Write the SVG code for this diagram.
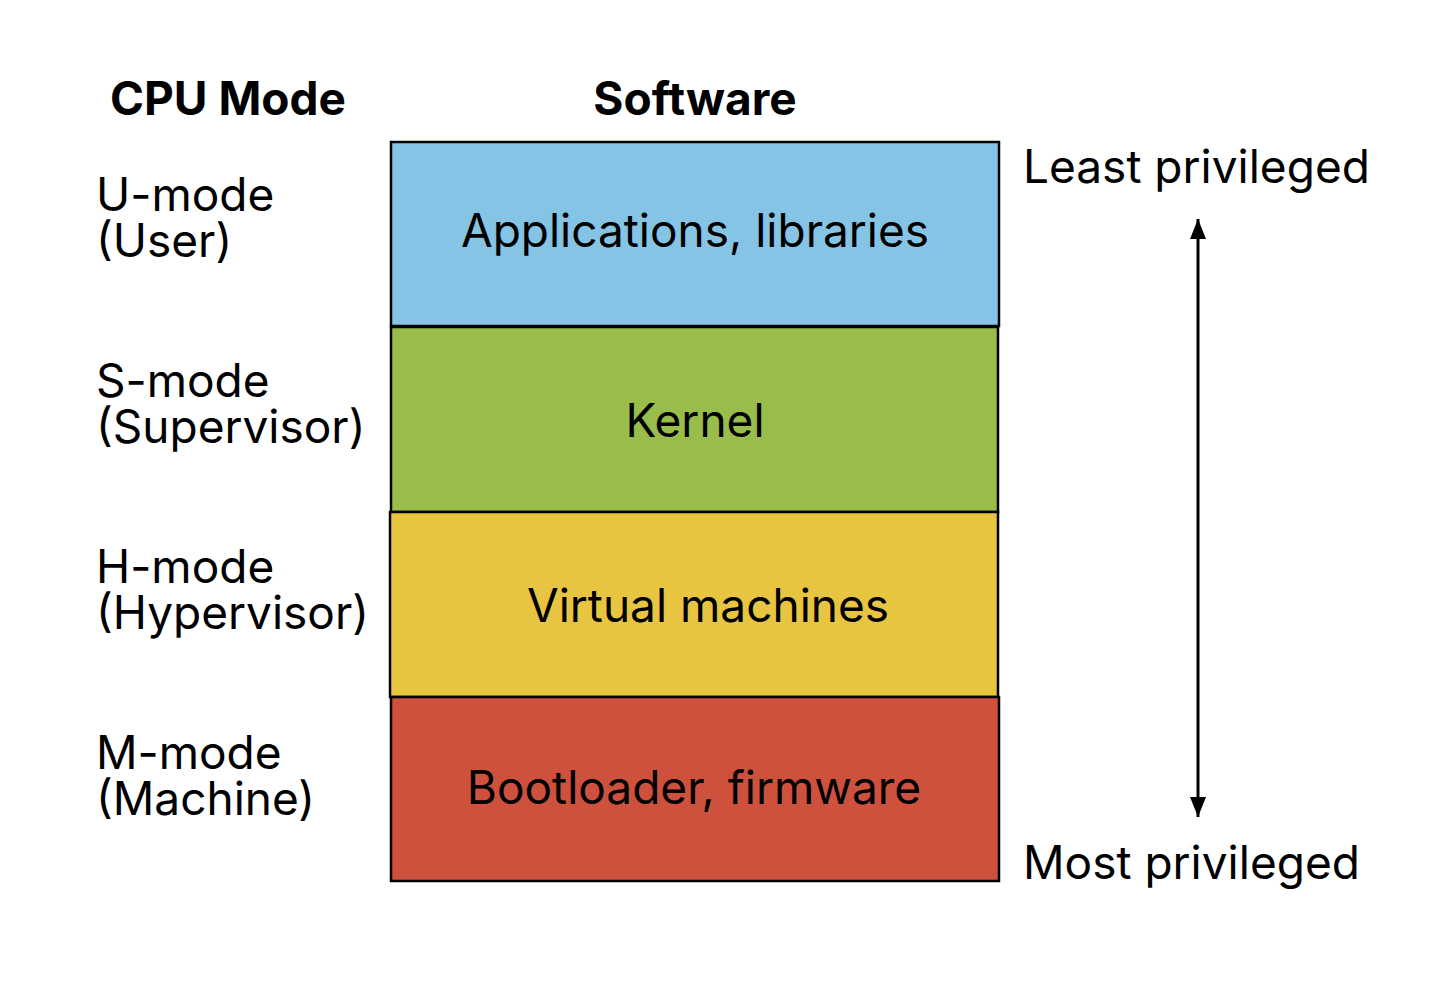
<svg xmlns="http://www.w3.org/2000/svg" width="1456" height="994" viewBox="0 0 1456 994">
<style>
text{font-family:Inter,"Noto Sans","Liberation Sans",sans-serif;font-size:46px;fill:#000}
.h{font-weight:bold}
.c{text-anchor:middle}
.box{stroke:#000;stroke-width:2.5}
</style>
<defs>
<marker id="ah" viewBox="0 0 20 16" refX="20" refY="8" markerWidth="20" markerHeight="16" markerUnits="userSpaceOnUse" orient="auto-start-reverse">
<path d="M0,0 L20,8 L0,16 Z" fill="#000"/>
</marker>
</defs>
<rect width="1456" height="994" fill="#fff"/>
<g id="headers">
<text class="h" x="110" y="115">CPU Mode</text>
<text class="h c" x="695" y="115">Software</text>
</g>
<g id="modes">
<text x="96" y="211">U-mode</text><text x="96" y="257">(User)</text>
<text x="96" y="397">S-mode</text><text x="96" y="443">(Supervisor)</text>
<text x="96" y="583">H-mode</text><text x="96" y="629">(Hypervisor)</text>
<text x="96" y="769">M-mode</text><text x="96" y="815">(Machine)</text>
</g>
<g id="apps"><rect class="box" x="391" y="142" width="608" height="184" fill="#85C4E4"/><text class="c" x="695" y="247">Applications, libraries</text></g>
<g id="kernel"><rect class="box" x="391" y="327" width="607" height="185" fill="#99BD4B"/><text class="c" x="695" y="437">Kernel</text></g>
<g id="vms"><rect class="box" x="390" y="512" width="608" height="185" fill="#E8C540"/><text class="c" x="708" y="622">Virtual machines</text></g>
<g id="boot"><rect class="box" x="391" y="697" width="608" height="184" fill="#CD513D"/><text class="c" x="694" y="804">Bootloader, firmware</text></g>
<g id="privilege">
<text x="1023" y="183">Least privileged</text>
<text x="1023" y="879">Most privileged</text>
</g>
<g id="connectors">
<line x1="1198" y1="219" x2="1198" y2="817" stroke="#000" stroke-width="3" marker-start="url(#ah)" marker-end="url(#ah)"/>
</g>
</svg>
